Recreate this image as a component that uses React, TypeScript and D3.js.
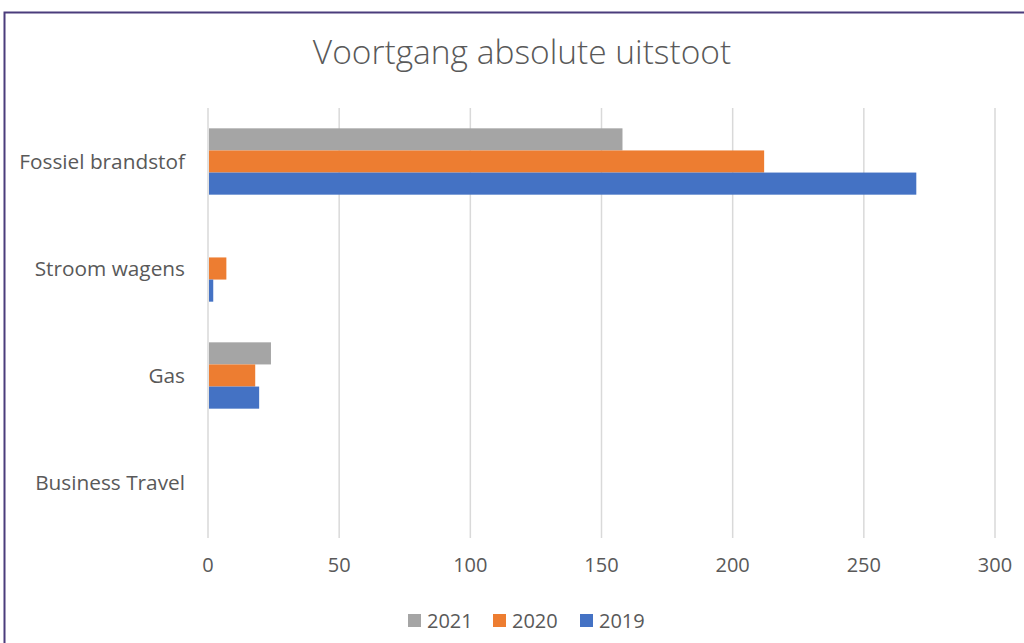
import React from 'react';
import * as d3 from 'd3';

const categories = ['Fossiel brandstof', 'Stroom wagens', 'Gas', 'Business Travel'];
const seriesNames = ['2021', '2020', '2019'];
const values2021 = [158, 0, 24, 0];
const values2020 = [212, 7, 18, 0];
const values2019 = [270, 2, 19.5, 0];
const colors = ['#A5A5A5', '#ED7D31', '#4472C4'];
const xTicks = [0, 50, 100, 150, 200, 250, 300];

const width = 1024;
const height = 643;
const margin = { top: 108, right: 29, bottom: 107, left: 208 };

const App = () => {
  const seriesValues = [values2021, values2020, values2019];

  const x = d3.scaleLinear()
    .domain([0, 300])
    .range([margin.left, width - margin.right]);

  const y = d3.scaleBand()
    .domain(categories)
    .range([margin.top, height - margin.bottom])
    .paddingInner(0.38)
    .paddingOuter(0.19);

  const inner = d3.scaleBand()
    .domain(seriesNames)
    .range([0, y.bandwidth()]);

  const textColor = '#595959';
  const font = 'Open Sans, Liberation Sans, sans-serif';

  // legend layout
  const legendX = [408, 493, 580];

  return (
    <svg width={width} height={height} style={{ position: 'absolute', left: 0, top: 0, background: '#fff' }}>
      <rect x={4.5} y={12.5} width={width + 20} height={height + 20} fill="#fff" stroke="#4B3C7C" strokeWidth={2} />
      <text x={522} y={64} textAnchor="middle" fontFamily={font} fontSize={33.5} fontWeight={300} fill={textColor}>
        Voortgang absolute uitstoot
      </text>

      {/* gridlines */}
      {xTicks.map(t => (
        <line key={t} x1={x(t)} x2={x(t)} y1={margin.top} y2={height - margin.bottom + 2}
          stroke="#D9D9D9" strokeWidth={1.5} />
      ))}

      {/* bars */}
      {categories.map((c, i) => (
        <g key={c}>
          {seriesNames.map((s, j) => {
            const v = seriesValues[j][i];
            if (!v) return null;
            return (
              <rect key={s} x={x(0) + 1} y={(y(c) ?? 0) + (inner(s) ?? 0)}
                width={x(v) - x(0) - 1} height={inner.bandwidth()} fill={colors[j]} />
            );
          })}
          <text x={185} y={(y(c) ?? 0) + y.bandwidth() / 2} dy="0.35em" textAnchor="end"
            fontFamily={font} fontSize={20.8} fill={textColor}>{c}</text>
        </g>
      ))}

      {/* x tick labels */}
      {xTicks.map(t => (
        <text key={t} x={x(t)} y={572} textAnchor="middle" fontFamily={font} fontSize={20} fill={textColor}>{t}</text>
      ))}

      {/* legend */}
      {seriesNames.map((s, j) => (
        <g key={s}>
          <rect x={legendX[j]} y={614} width={13} height={13} fill={colors[j]} />
          <text x={legendX[j] + 19} y={628} fontFamily={font} fontSize={20} fill={textColor}>{s}</text>
        </g>
      ))}
    </svg>
  );
};

export default App;
